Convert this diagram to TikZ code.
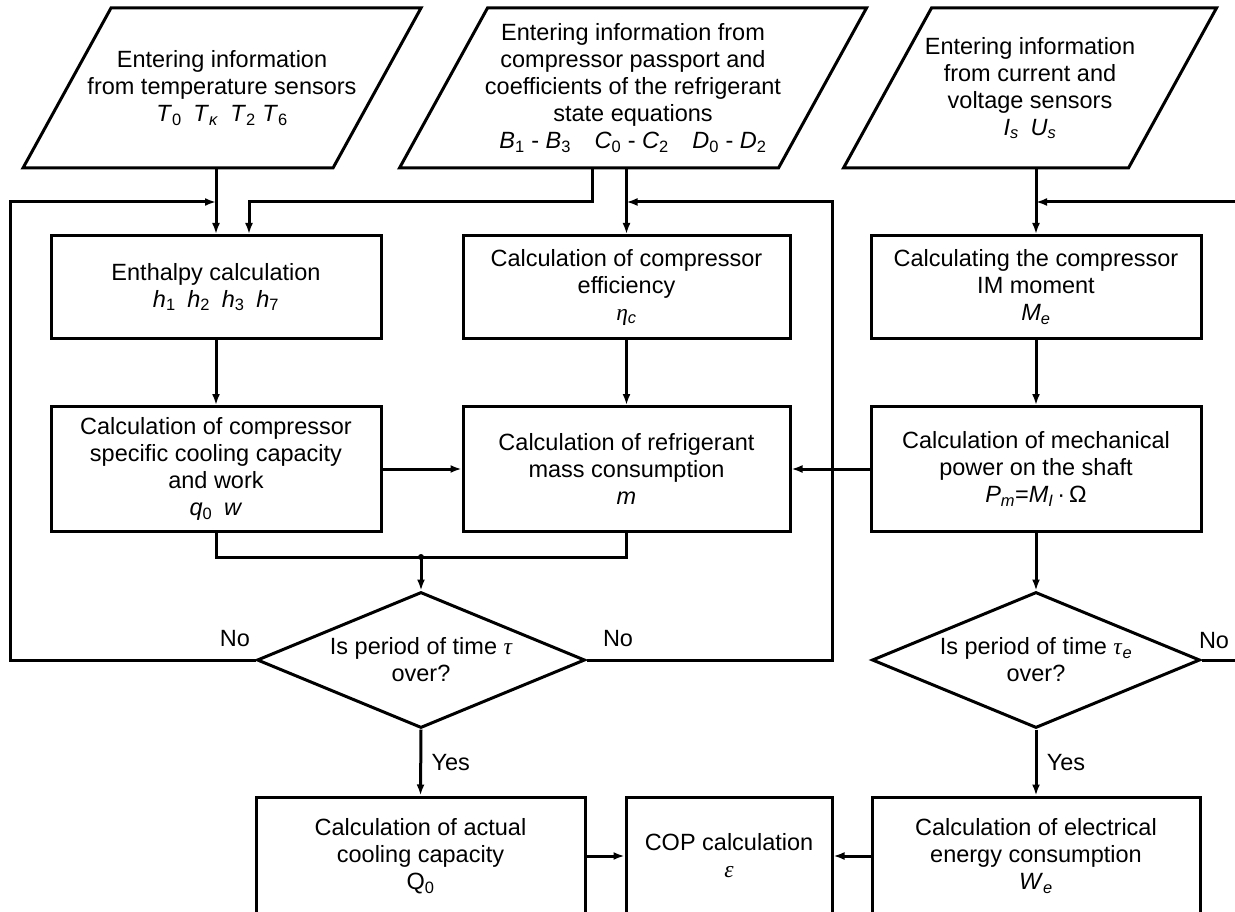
\documentclass[tikz,border=0pt]{standalone}
\usepackage{fontspec}
\setmainfont{Liberation Sans}
\newfontfamily\grk{Liberation Serif}
\usetikzlibrary{arrows.meta,shapes.geometric}
\newcommand{\sv}[2]{\textit{#1}\textsubscript{#2}}

\begin{document}
\begin{tikzpicture}[x=1pt,y=-1pt,
        font=\fontsize{23.5}{27}\selectfont,
        line width=3pt,
        >={Latex[length=11pt,width=8pt]},
        calcbox/.style={draw,rectangle,align=center,inner sep=0pt},
        decision/.style={draw,diamond,aspect=2.41,align=center,inner sep=0pt,
          minimum width=328pt,minimum height=136pt},
        inpar/.style={align=center,inner sep=0pt,minimum height=157pt,
          append after command={\pgfextra{
            \draw ([xshift=44pt]\tikzlastnode.north west)
              -- ([xshift=44pt]\tikzlastnode.north east)
              -- ([xshift=-44pt]\tikzlastnode.south east)
              -- ([xshift=-44pt]\tikzlastnode.south west) -- cycle;}}}]
        \useasboundingbox (0,0) rectangle (1235,912);

        % input data
        \node[inpar,minimum width=307pt] (io1) at (222,88)
          {Entering information\\from temperature sensors\\
           \sv{T}{0}\enspace\sv{T}{\textit{κ}}\enspace\sv{T}{2} \sv{T}{6}};
        \node[inpar,minimum width=376pt] (io2) at (633,88)
          {Entering information from\\compressor passport and\\
           coefficients of the refrigerant\\state equations\\
           \sv{B}{1} - \sv{B}{3}\quad\sv{C}{0} - \sv{C}{2}\quad\sv{D}{0} - \sv{D}{2}};
        \node[inpar,minimum width=282pt] (io3) at (1030,88)
          {Entering information\\from current and\\voltage sensors\\
           \sv{I}{\textit{s}}\enspace\sv{U}{\textit{s}}};

        % calculation blocks
        \node[calcbox,minimum width=330pt,minimum height=103pt] (enth) at (216,287)
          {Enthalpy calculation\\\sv{h}{1}\enspace\sv{h}{2}\enspace\sv{h}{3}\enspace\sv{h}{7}};
        \node[calcbox,minimum width=327pt,minimum height=103pt] (eff) at (626.5,287)
          {Calculation of compressor\\efficiency\\\sv{\grk η}{\textit{c}}};
        \node[calcbox,minimum width=330pt,minimum height=103pt] (im) at (1036,287)
          {Calculating the compressor\\IM moment\\\sv{M}{\textit{e}}};
        \node[calcbox,minimum width=330pt,minimum height=125pt] (spec) at (216,469)
          {Calculation of compressor\\specific cooling capacity\\and work\\
           \sv{q}{0}\enspace\textit{w}};
        \node[calcbox,minimum width=327pt,minimum height=125pt] (mass) at (626.5,469)
          {Calculation of refrigerant\\mass consumption\\\textit{m}};
        \node[calcbox,minimum width=330pt,minimum height=125pt] (mech) at (1036,469)
          {Calculation of mechanical\\power on the shaft\\
           \sv{P}{\textit{m}}=\sv{M}{\textit{I}}\,·\,Ω};

        % checks
        \node[decision] (tau) at (421,660) {Is period of time {\grk\itshape τ}\\over?};
        \node[decision] (taue) at (1036,660) {Is period of time \sv{\grk τ}{\textit{e}}\\over?};

        % results
        \node[calcbox,minimum width=329pt,minimum height=118pt] (qact) at (420.5,856)
          {Calculation of actual\\cooling capacity\\Q\textsubscript{0}};
        \node[calcbox,minimum width=206pt,minimum height=118pt] (cop) at (729,856)
          {COP calculation\\{\grk\itshape ε}};
        \node[calcbox,minimum width=328pt,minimum height=118pt] (wel) at (1036,856)
          {Calculation of electrical\\energy consumption\\\sv{W}{\textit{e}}};

        \coordinate (br) at (592,202);
        \coordinate (lft) at (10,202);
        \coordinate (mid) at (832,202);
        \coordinate (rgt) at (1250,202);
        \coordinate (jm) at (421,557);

        \draw[->] (io1.south -| enth.north) -- (enth.north);
        \draw[->] (io2.south -| br) -- (br) -| ([xshift=33pt]enth.north);
        \draw[->] (io2.south -| eff.north) -- (eff.north);
        \draw[->] (io3.south -| im.north) -- (im.north);
        \draw[->] (enth) -- (spec);
        \draw[->] (eff) -- (mass);
        \draw[->] (im) -- (mech);
        \draw[->] (spec) -- (mass);
        \draw[->] (mech) -- (mass);
        \draw (spec.south) |- (jm) -| (mass.south);
        \fill (jm) circle (3pt);
        \draw[->] (jm) -- (tau.north);
        \draw[->] (mech) -- (taue);
        \draw[->] (tau.south) -- node[right=6pt] {Yes} (qact.north);
        \draw[->] (taue.south) -- node[right=6pt] {Yes} (wel.north);
        \draw[->] (qact) -- (cop);
        \draw[->] (wel) -- (cop);

        % loops back
        \draw[->] (tau.west) node[above left,inner sep=4pt,yshift=8pt] {No}
          -| (lft) -- (lft -| enth.north);
        \draw[->] (tau.east) node[above right,inner sep=4pt,xshift=11pt,yshift=8pt] {No}
          -| (mid) -- (mid -| eff.north);
        \draw[->] (taue.east) node[above right,inner sep=2pt,xshift=-6pt,yshift=8pt] {No}
          -| (rgt) -- (rgt -| im.north);
      \end{tikzpicture}
\end{document}
